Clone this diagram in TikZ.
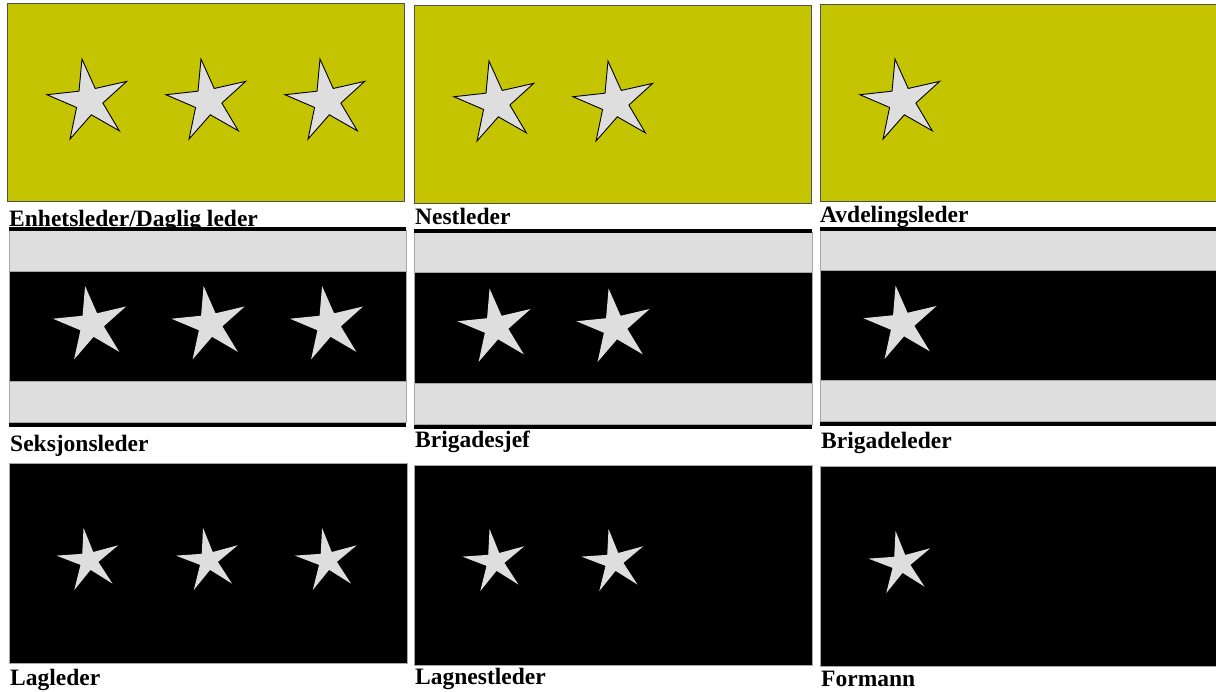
\documentclass[tikz,border=0pt]{standalone}
\usepackage{fontspec}
\setmainfont{Liberation Serif}
\definecolor{insyellow}{HTML}{C4C400}
\definecolor{insgray}{HTML}{DEDEDE}
\definecolor{edgedark}{HTML}{505050}
\definecolor{edgelight}{HTML}{A8A8A8}
\newcommand\rankstar[5]{%
  \path[#5,shift={(#1,#2)}] (-99.5:#3) -- (-63.5:#4) -- (-27.5:#3) -- (8.5:#4) -- (44.5:#3)
    -- (80.5:#4) -- (116.5:#3) -- (152.5:#4) -- (188.5:#3) -- (224.5:#4) -- cycle;}
\tikzset{
  lbl/.style={anchor=base west,inner sep=0pt,font=\fontsize{23.5}{28}\selectfont\bfseries},
  ypanel/.style={fill=insyellow,draw=edgedark,line width=1pt},
  bpanel/.style={fill=black,draw=edgelight,line width=1pt},
  band/.style={fill=insgray,draw=edgelight,line width=1pt},
  blackband/.style={fill=black,draw=edgelight,line width=1pt},
  edgeline/.style={draw=black,line width=4pt},
  ostar/.style={fill=insgray,draw=black,line width=0.9pt,line join=miter},
  pstar/.style={fill=insgray}
}
\begin{document}
\begin{tikzpicture}[x=1pt,y=-1pt]
\fill[white] (0,0) rectangle (1216,692);
\useasboundingbox (0,0) rectangle (1216,692);
\clip (0,0) rectangle (1216,692);
% ---------- Row 1 ----------
\draw[ypanel] (7,4) rectangle (404,202);
\draw[ypanel] (414,6) rectangle (811,204);
\draw[ypanel] (820,5) rectangle (1222,202);
\rankstar{89}{101}{42.5}{14}{ostar}
\rankstar{208}{101}{42.5}{14}{ostar}
\rankstar{327}{101}{42.5}{14}{ostar}
\rankstar{496}{103}{42.5}{14}{ostar}
\rankstar{615}{103}{42.5}{14}{ostar}
\rankstar{902}{101}{42.5}{14}{ostar}
\node[lbl] (l1) at (9,226.5) {Enhetsleder/Daglig leder};
\node[lbl] (l2) at (415,225) {Nestleder};
\node[lbl] (l3) at (820,223) {Avdelingsleder};
% ---------- Row 2 ----------
% panel 1
\draw[band] (9,231) rectangle (406,272);
\draw[blackband] (9,272) rectangle (406,382);
\draw[band] (9,382) rectangle (406,423);
\draw[edgeline] (9,229) -- (406,229);
\draw[edgeline] (9,425) -- (406,425);
% panel 2
\draw[band] (414,233) rectangle (812,273);
\draw[blackband] (414,273) rectangle (812,384);
\draw[band] (414,384) rectangle (812,425);
\draw[edgeline] (414,231) -- (812,231);
\draw[edgeline] (414,427) -- (812,427);
% panel 3
\draw[band] (820,231) rectangle (1222,271);
\draw[blackband] (820,271) rectangle (1222,381);
\draw[band] (820,381) rectangle (1222,422);
\draw[edgeline] (820,229) -- (1222,229);
\draw[edgeline] (820,424) -- (1222,424);
\rankstar{91.5}{324.5}{39}{12.5}{pstar}
\rankstar{210}{324.5}{39}{12.5}{pstar}
\rankstar{328.5}{324.5}{39}{12.5}{pstar}
\rankstar{496}{327}{39}{12.5}{pstar}
\rankstar{615}{327}{39}{12.5}{pstar}
\rankstar{902}{324}{39}{12.5}{pstar}
\node[lbl] (l4) at (10,452) {Seksjonsleder};
\node[lbl] (l5) at (415,447.5) {Brigadesjef};
\node[lbl] (l6) at (821,449) {Brigadeleder};
% ---------- Row 3 ----------
\draw[bpanel] (9,464) rectangle (407,663);
\draw[bpanel] (414,466) rectangle (812,665);
\draw[bpanel] (820,467) rectangle (1222,666);
\rankstar{89}{560.5}{33}{9.5}{pstar}
\rankstar{208.5}{560.5}{33}{9.5}{pstar}
\rankstar{327.5}{560.5}{33}{9.5}{pstar}
\rankstar{495}{561.5}{33}{9.5}{pstar}
\rankstar{614}{561.5}{33}{9.5}{pstar}
\rankstar{901}{563.5}{33}{9.5}{pstar}
\node[lbl] (l7) at (10,685.5) {Lagleder};
\node[lbl] (l8) at (415,684.5) {Lagnestleder};
\node[lbl] (l9) at (821,686) {Formann};
\end{tikzpicture}
\end{document}
